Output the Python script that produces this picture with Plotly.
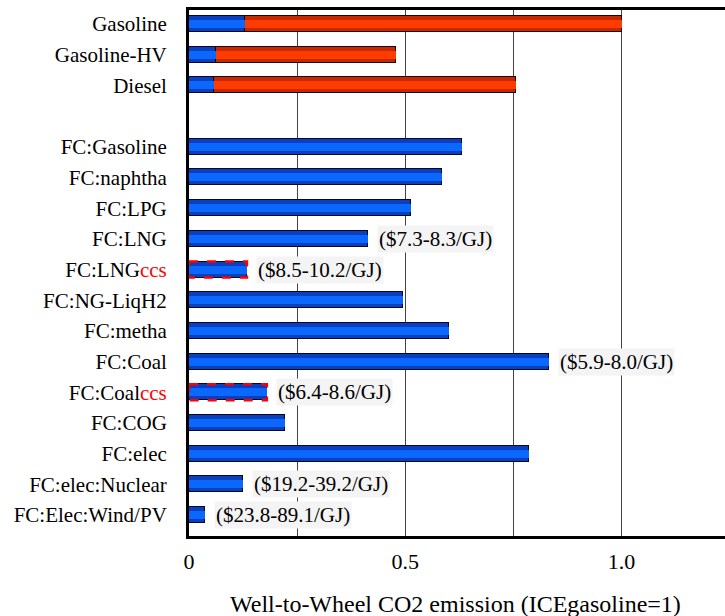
import plotly.graph_objects as go

labels = ["Gasoline", "Gasoline-HV", "Diesel", "",
          "FC:Gasoline", "FC:naphtha", "FC:LPG", "FC:LNG",
          "FC:LNG<span style='color:#ff0000'>ccs</span>", "FC:NG-LiqH2", "FC:metha", "FC:Coal",
          "FC:Coal<span style='color:#ff0000'>ccs</span>", "FC:COG", "FC:elec", "FC:elec:Nuclear",
          "FC:Elec:Wind/PV"]
blue_vals = [0.13, 0.0625, 0.058, None,
             0.632, 0.586, 0.514, 0.414,
             0.134, 0.495, 0.602, 0.833,
             0.18, 0.222, 0.787, 0.125,
             0.037]
red_vals = [0.87, 0.415, 0.699, None] + [None] * 13
ccs_rows = [8, 12]
cost_labels = {7: "($7.3-8.3/GJ)", 8: "($8.5-10.2/GJ)", 11: "($5.9-8.0/GJ)",
               12: "($6.4-8.6/GJ)", 15: "($19.2-39.2/GJ)", 16: "($23.8-89.1/GJ)"}
x_tickvals = [0, 0.25, 0.5, 0.75, 1.0]
x_ticktext = ["0", "", "0.5", "", "1.0"]

ypos = list(range(len(labels)))
BAR_W = 0.52
INNER_W = 0.26
SERIF = "Liberation Serif"
XRANGE = [0, 1.26]

fig = go.Figure()
# outer (darker) bars with outline
fig.add_trace(go.Bar(y=ypos, x=blue_vals, orientation="h", width=BAR_W,
                     marker=dict(color="#0a3fc0", line=dict(color="#000820", width=1.5)),
                     showlegend=False, hoverinfo="skip"))
fig.add_trace(go.Bar(y=ypos, x=red_vals, orientation="h", width=BAR_W,
                     marker=dict(color="#c82800", line=dict(color="#1a0000", width=1.5)),
                     showlegend=False, hoverinfo="skip"))
# inner highlight stripes (gradient look) on an overlaid hidden axis
fig.add_trace(go.Bar(y=ypos, x=blue_vals, orientation="h", width=INNER_W, xaxis="x2",
                     marker=dict(color="#0a68ff", line=dict(width=0)),
                     showlegend=False))
fig.add_trace(go.Bar(y=ypos, x=red_vals, orientation="h", width=INNER_W, xaxis="x2",
                     marker=dict(color="#ff3c00", line=dict(width=0)),
                     showlegend=False))

shapes = []
for r in ccs_rows:
    shapes.append(dict(type="rect", xref="x", yref="y", x0=0, x1=blue_vals[r],
                       y0=r - BAR_W / 2, y1=r + BAR_W / 2,
                       line=dict(color="#ff0000", width=2.5, dash="dash"), layer="above"))

annotations = []
for r, t in cost_labels.items():
    annotations.append(dict(x=blue_vals[r], y=r, xref="x", yref="y", text=t,
                            showarrow=False, xanchor="left", yanchor="middle", xshift=9,
                            bgcolor="#f4f4f4",
                            font=dict(family=SERIF, size=21, color="#000000")))
annotations.append(dict(x=0.5, y=0, xref="paper", yref="paper", yanchor="top", yshift=-53,
                        xshift=-6,
                        showarrow=False, text="Well-to-Wheel CO2 emission (ICEgasoline=1)",
                        font=dict(family=SERIF, size=24, color="#000000")))

fig.update_layout(
    width=734, height=616,
    margin=dict(l=189, r=0, t=10, b=80, autoexpand=False),
    paper_bgcolor="white", plot_bgcolor="white",
    font=dict(family=SERIF, color="#000000"),
    barmode="stack", bargap=0,
    shapes=shapes, annotations=annotations,
    xaxis=dict(range=XRANGE, tickvals=x_tickvals, ticktext=x_ticktext,
               showgrid=True, gridcolor="#444444", gridwidth=1,
               showline=True, linecolor="#000000", linewidth=3, mirror=True,
               zeroline=False, ticks="", ticklabelstandoff=4, automargin=False,
               tickfont=dict(family=SERIF, size=22, color="#000000")),
    xaxis2=dict(range=XRANGE, overlaying="x", visible=False, showgrid=False),
    yaxis=dict(range=[16.68, -0.455], tickvals=ypos, ticktext=labels,
               showgrid=False, showline=True, linecolor="#000000", linewidth=3,
               zeroline=False, ticks="", ticklabelstandoff=15, automargin=False,
               mirror=False,
               tickfont=dict(family=SERIF, size=21, color="#000000")),
)

fig.write_html("out.html", config={"displayModeBar": False},
               post_script="document.body.style.margin='0';document.body.style.overflow='hidden';")
